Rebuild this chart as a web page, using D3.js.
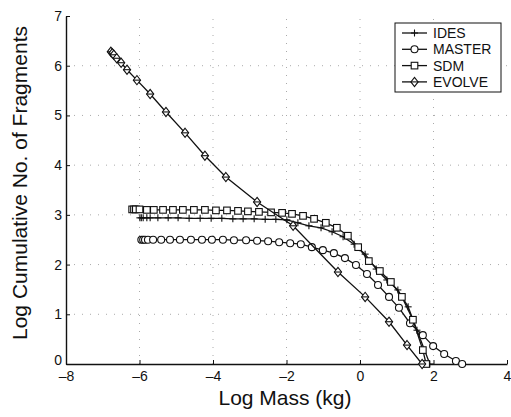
<!DOCTYPE html>
<html>
<head>
<meta charset="utf-8">
<script src="https://cdnjs.cloudflare.com/ajax/libs/d3/7.8.5/d3.min.js"></script>
<style>
  body { margin: 0; background: #fff; }
  text { font-family: "Liberation Sans", Arial, Helvetica, sans-serif; fill: #111; }
</style>
</head>
<body>
<svg id="chart" width="511" height="417"></svg>
<script>
// Data (log10 mass in kg, log10 cumulative number)
const idesX = [-5.99, -5.95, -5.9, -5.8, -5.71, -5.5, -5.22, -4.95, -4.65, -4.35, -4.05, -3.76, -3.46, -3.18, -2.88, -2.58, -2.29, -1.99, -1.69, -1.39, -1.06, -0.76, -0.46, -0.16, 0.14, 0.44, 0.73, 1.03, 1.31, 1.55, 1.9];
const idesY = [2.94, 2.94, 2.94, 2.94, 2.94, 2.94, 2.94, 2.94, 2.93, 2.93, 2.93, 2.93, 2.92, 2.92, 2.92, 2.91, 2.91, 2.9, 2.84, 2.78, 2.74, 2.66, 2.56, 2.41, 2.21, 1.91, 1.69, 1.49, 1.15, 0.68, 0];

const masterX = [-5.95, -5.9, -5.85, -5.77, -5.63, -5.41, -5.17, -4.9, -4.6, -4.3, -4.03, -3.73, -3.43, -3.1, -2.8, -2.5, -2.2, -1.9, -1.61, -1.31, -1.01, -0.71, -0.41, -0.11, 0.19, 0.49, 0.79, 1.06, 1.36, 1.71, 1.99, 2.29, 2.61, 2.78];
const masterY = [2.5, 2.5, 2.5, 2.5, 2.5, 2.5, 2.5, 2.5, 2.5, 2.5, 2.5, 2.5, 2.49, 2.49, 2.48, 2.47, 2.45, 2.43, 2.41, 2.35, 2.29, 2.23, 2.13, 1.99, 1.81, 1.59, 1.35, 1.13, 0.82, 0.58, 0.36, 0.2, 0.06, 0];

const sdmX = [-6.2, -6.15, -6.1, -6.0, -5.8, -5.61, -5.36, -5.09, -4.82, -4.52, -4.22, -3.92, -3.62, -3.32, -3.05, -2.75, -2.42, -2.12, -1.85, -1.55, -1.25, -0.93, -0.63, -0.33, -0.05, 0.24, 0.54, 0.84, 1.14, 1.44, 1.71, 1.8];
const sdmY = [3.11, 3.11, 3.11, 3.11, 3.1, 3.1, 3.1, 3.1, 3.1, 3.1, 3.1, 3.09, 3.09, 3.08, 3.07, 3.06, 3.05, 3.04, 3.02, 2.98, 2.92, 2.84, 2.74, 2.58, 2.35, 2.07, 1.87, 1.65, 1.35, 0.89, 0.28, 0];

const evolveX = [-6.78, -6.74, -6.7, -6.62, -6.5, -6.34, -6.07, -5.71, -5.28, -4.76, -4.22, -3.65, -2.8, -1.82, -0.6, 0.14, 0.79, 1.28, 1.69];
const evolveY = [6.28, 6.25, 6.22, 6.15, 6.06, 5.92, 5.71, 5.43, 5.07, 4.65, 4.19, 3.76, 3.26, 2.78, 1.85, 1.35, 0.85, 0.38, 0];

const seriesNames = ["IDES", "MASTER", "SDM", "EVOLVE"];
const xTicks = [-8, -6, -4, -2, 0, 2, 4];
const yTicks = [0, 1, 2, 3, 4, 5, 6, 7];

const series = [
  {name: "IDES", marker: "plus", x: idesX, y: idesY},
  {name: "MASTER", marker: "circle", x: masterX, y: masterY},
  {name: "SDM", marker: "square", x: sdmX, y: sdmY},
  {name: "EVOLVE", marker: "diamond", x: evolveX, y: evolveY}
];

const svg = d3.select("#chart");
const margin = {left: 66, right: 4, top: 16, bottom: 53};
const width = 511, height = 417;

//Scales
const scaleX = d3.scaleLinear().domain([-8, 4]).range([margin.left, width - margin.right]);
const scaleY = d3.scaleLinear().domain([0, 7]).range([height - margin.bottom, margin.top]);

//Grid
const grid = svg.append("g").attr("id", "grid");
grid.selectAll("line.gx")
  .data(xTicks.slice(1, -1))
  .join("line")
  .attr("class", "gx")
  .attr("x1", d => scaleX(d)).attr("x2", d => scaleX(d))
  .attr("y1", scaleY(0)).attr("y2", scaleY(7))
  .style("stroke", "#aaa").style("stroke-width", 1).style("stroke-dasharray", "1,7");
grid.selectAll("line.gy")
  .data(yTicks.slice(1, -1))
  .join("line")
  .attr("class", "gy")
  .attr("x1", scaleX(-8)).attr("x2", scaleX(4))
  .attr("y1", d => scaleY(d)).attr("y2", d => scaleY(d))
  .style("stroke", "#aaa").style("stroke-width", 1).style("stroke-dasharray", "1,7");

//Axis
const xAxis = d3.axisBottom(scaleX).tickValues(xTicks).tickSizeInner(-4).tickSizeOuter(0)
  .tickFormat(d => d < 0 ? "\u2013" + Math.abs(d) : d);
const xAxisG = svg.append("g")
  .attr("transform", `translate(0, ${scaleY(0)})`)
  .call(xAxis);
xAxisG.selectAll("text").attr("y", 7).style("font-size", "14px");

const yAxis = d3.axisLeft(scaleY).tickValues(yTicks).tickSizeInner(-4).tickSizeOuter(0)
  .tickFormat(d3.format("d"));
const yAxisG = svg.append("g")
  .attr("transform", `translate(${scaleX(-8)}, 0)`)
  .call(yAxis);
yAxisG.selectAll("text").attr("x", -4).style("font-size", "14px");
// the "0" sits a little higher so it clears the "-8" below it
yAxisG.selectAll("text").filter(d => d === 0).attr("dy", "0.05em");

svg.selectAll(".domain").style("stroke", "#111").style("stroke-width", 1.4);
svg.selectAll(".tick line").style("stroke", "#111");
svg.selectAll(".tick text").style("fill", "#111").style("font-family", "'Liberation Sans', Arial, sans-serif");

//Axis labels
svg.append("text")
  .attr("x", 285).attr("y", 405)
  .attr("text-anchor", "middle")
  .style("font-size", "21px")
  .text("Log Mass (kg)");
svg.append("text")
  .attr("transform", `translate(27, 183) rotate(-90)`)
  .attr("text-anchor", "middle")
  .style("font-size", "21px")
  .text("Log Cumulative No. of Fragments");

//Markers
function drawMarker(g, type, cx, cy) {
  if (type === "circle") {
    g.append("circle").attr("cx", cx).attr("cy", cy).attr("r", 3.5)
      .style("fill", "#fff").style("stroke", "#111").style("stroke-width", 1.1);
  } else if (type === "square") {
    g.append("rect").attr("x", cx - 3.3).attr("y", cy - 3.3).attr("width", 6.6).attr("height", 6.6)
      .style("fill", "#fff").style("stroke", "#111").style("stroke-width", 1.1);
  } else if (type === "diamond") {
    g.append("path").attr("d", `M${cx},${cy - 4.6}L${cx + 3.6},${cy}L${cx},${cy + 4.6}L${cx - 3.6},${cy}Z`)
      .style("fill", "#fff").style("stroke", "#111").style("stroke-width", 1.1);
    g.append("line").attr("x1", cx - 3.6).attr("x2", cx + 3.6).attr("y1", cy).attr("y2", cy)
      .style("stroke", "#111").style("stroke-width", 1.1);
  } else {
    g.append("line").attr("x1", cx - 3.5).attr("x2", cx + 3.5).attr("y1", cy).attr("y2", cy)
      .style("stroke", "#111").style("stroke-width", 1.1);
    g.append("line").attr("x1", cx).attr("x2", cx).attr("y1", cy - 3.5).attr("y2", cy + 3.5)
      .style("stroke", "#111").style("stroke-width", 1.1);
  }
}

const lineGenerator = d3.line().x(d => scaleX(d[0])).y(d => scaleY(d[1]));

series.forEach(s => {
  const pts = s.x.map((v, i) => [v, s.y[i]]);
  const g = svg.append("g").attr("id", s.name);
  g.append("path")
    .attr("d", lineGenerator(pts))
    .style("fill", "none").style("stroke", "#111").style("stroke-width", 1.3);
  pts.forEach(p => drawMarker(g, s.marker, scaleX(p[0]), scaleY(p[1])));
});

//Legend
const legend = svg.append("g").attr("id", "legend");
legend.append("rect")
  .attr("x", 395).attr("y", 23).attr("width", 106).attr("height", 69)
  .style("fill", "#fff").style("stroke", "#111").style("stroke-width", 1);
seriesNames.forEach((name, i) => {
  const y = 33 + i * 16.3;
  legend.append("line").attr("x1", 402).attr("x2", 427).attr("y1", y).attr("y2", y)
    .style("stroke", "#111").style("stroke-width", 1.3);
  drawMarker(legend, series[i].marker, 414.5, y);
  legend.append("text").attr("x", 433).attr("y", y + 5)
    .style("font-size", "14px")
    .text(name);
});
</script>
</body>
</html>
